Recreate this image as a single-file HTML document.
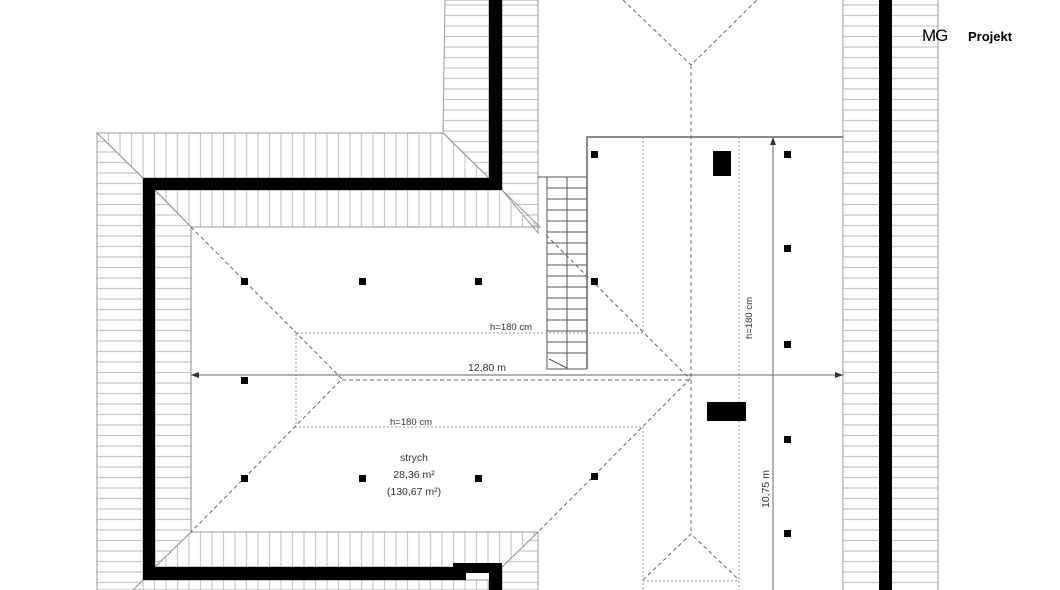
<!DOCTYPE html>
<html><head><meta charset="utf-8"><style>
html,body{margin:0;padding:0;background:#fff;width:1060px;height:590px;overflow:hidden}
svg{display:block}
text{font-family:"Liberation Sans",sans-serif;fill:#333}
</style></head><body>
<svg width="1060" height="590" viewBox="0 0 1060 590" xmlns="http://www.w3.org/2000/svg">
<defs>
<pattern id="hh" width="20" height="10.5" patternUnits="userSpaceOnUse"><line x1="0" y1="5" x2="20" y2="5" stroke="#c8c8c8" stroke-width="1.2"/></pattern>
<pattern id="vh" width="11.5" height="20" patternUnits="userSpaceOnUse"><line x1="5" y1="0" x2="5" y2="20" stroke="#c8c8c8" stroke-width="1.2"/></pattern>
</defs>
<g stroke="#999" stroke-width="1">
<polygon points="445,0 489,0 489,178 443,133" fill="url(#hh)"/>
<polygon points="502,0 538,0 538,233 502,190" fill="url(#hh)"/>
<polygon points="97,133 443,133 489,178 143,178" fill="url(#vh)"/>
<polygon points="97,133 143,178 143,580 133,590 97,590" fill="url(#hh)"/>
<polygon points="133,590 143,580 489,580 489,590" fill="url(#vh)"/>
<polygon points="155,190 502,190 540,227 191,227" fill="url(#vh)"/>
<polygon points="155,190 191,227 191,532 155,567" fill="url(#hh)"/>
<polygon points="155,567 191,532 538,532 502,567" fill="url(#vh)"/>
<polygon points="502,567 538,532 538,590 502,590" fill="url(#hh)"/>
<rect x="843" y="-2" width="95" height="600" fill="url(#hh)"/>
</g>
<g fill="#000">
<rect x="489" y="0" width="13" height="190"/>
<rect x="143" y="178" width="359" height="12"/>
<rect x="143" y="178" width="12" height="402"/>
<rect x="143" y="567" width="323" height="13"/>
<rect x="453" y="563" width="49" height="10"/>
<rect x="489" y="563" width="13" height="27"/>
<rect x="879" y="0" width="13" height="590"/>
</g>
<polyline points="587,369 587,137 843,137" fill="none" stroke="#666" stroke-width="1.5"/>
<g stroke="#555" stroke-width="1" fill="none">
<polyline points="538,177 547,177 547,369 587,369"/>
<line x1="567" y1="177" x2="567" y2="369"/>
<line x1="547" y1="177" x2="587" y2="177"/>
<path d="M547,188H587M547,199H587M547,210H587M547,221H587M547,232H587M547,243H587M547,254H587M547,265H587M547,276H587M547,287H587M547,298H587M547,309H587M547,320H587M547,331H587M547,342H587M547,353H587"/>
<line x1="549" y1="359" x2="567" y2="368"/>
</g>
<line x1="191" y1="227" x2="191" y2="532" stroke="#888"/>
<g stroke="#666" stroke-width="1" stroke-dasharray="4,3" fill="none">
<polyline points="191,227 342,379 191,532"/>
<polyline points="546,235 690,379 538,532"/>
<line x1="342" y1="380" x2="690" y2="380"/>
<line x1="691" y1="65" x2="691" y2="534"/>
<polyline points="623,0 691,65 757,0"/>
<polyline points="643,580 691,534 739,580"/>
</g>
<g stroke="#999" stroke-width="1" stroke-dasharray="2,2" fill="none">
<polyline points="643,333 296,333 296,427 643,427"/>
<line x1="643" y1="137" x2="643" y2="333"/>
<line x1="643" y1="427" x2="643" y2="590"/>
<line x1="739" y1="137" x2="739" y2="590"/>
<line x1="643" y1="581" x2="739" y2="581"/>
</g>
<g stroke="#666" stroke-width="1">
<line x1="191" y1="375" x2="843" y2="375"/>
<line x1="773" y1="137" x2="773" y2="590"/>
</g>
<polygon points="191,375 199,372 199,378" fill="#333"/>
<polygon points="843,375 835,372 835,378" fill="#333"/>
<polygon points="773,137 770,145 776,145" fill="#333"/>
<rect x="713" y="151" width="18" height="25" fill="#000"/>
<rect x="707" y="402" width="39" height="19" fill="#000"/>
<g fill="#000">
<rect x="241" y="278" width="7" height="7"/><rect x="359" y="278" width="7" height="7"/><rect x="475" y="278" width="7" height="7"/><rect x="591" y="278" width="7" height="7"/>
<rect x="591" y="151" width="7" height="7"/><rect x="784" y="151" width="7" height="7"/><rect x="784" y="245" width="7" height="7"/><rect x="784" y="341" width="7" height="7"/>
<rect x="241" y="377" width="7" height="7"/><rect x="241" y="475" width="7" height="7"/><rect x="359" y="475" width="7" height="7"/><rect x="475" y="475" width="7" height="7"/><rect x="591" y="473" width="7" height="7"/>
<rect x="784" y="436" width="7" height="7"/><rect x="784" y="530" width="7" height="7"/>
</g>
<text x="490" y="330" font-size="9.5">h=180 cm</text>
<text x="390" y="425" font-size="9.5">h=180 cm</text>
<text x="468" y="371" font-size="10.5">12,80 m</text>
<text x="0" y="0" font-size="9.5" transform="translate(752,339) rotate(-90)">h=180 cm</text>
<text x="0" y="0" font-size="10.5" transform="translate(769,508) rotate(-90)">10,75 m</text>
<text x="414" y="461" font-size="10.5" text-anchor="middle">strych</text>
<text x="414" y="478" font-size="10.5" text-anchor="middle">28,36 m²</text>
<text x="414" y="495" font-size="10.5" text-anchor="middle">(130,67 m²)</text>
<text x="922" y="41" font-size="17" style="fill:#000;letter-spacing:-1px">MG</text>
<text x="968" y="41" font-size="13" style="fill:#000;font-weight:bold">Projekt</text>
</svg>
</body></html>
